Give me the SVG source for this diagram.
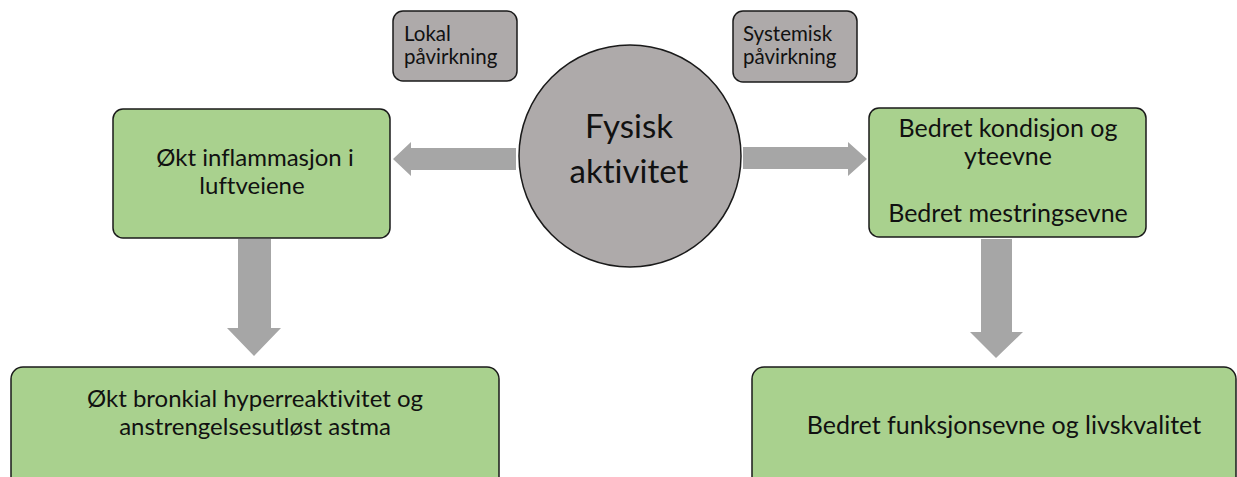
<svg xmlns="http://www.w3.org/2000/svg" width="1237" height="477" viewBox="0 0 1237 477">
<style>
.t{font-family:Lato,"Open Sans","Liberation Sans",sans-serif;fill:#111;font-variant-ligatures:none}
.g{fill:#A9D18E;stroke:#1a1a1a;stroke-width:1.5}
.s{fill:#AEAAAA;stroke:#1a1a1a;stroke-width:1.5}
.a{fill:#A6A6A6;stroke:none}
</style>
<rect width="1237" height="477" fill="#fff"/>
<g id="connectors">
<polygon class="a" points="516,148 411,148 411,142 393,159 411,176 411,170 516,170"/>
<polygon class="a" points="743,147 848,147 848,142 867,159 848,176 848,169 743,169"/>
<polygon class="a" points="238,239 271,239 271,328 281,328 254,356 227,328 238,328"/>
<polygon class="a" points="981,239 1012,239 1012,332 1023,332 996,358 970,332 981,332"/>
</g>
<g id="lokal">
<rect class="s" x="393" y="11" width="124" height="70" rx="10"/>
<text class="t" x="404" y="41" font-size="20.5">Lokal</text>
<text class="t" x="404" y="64" font-size="20.5">påvirkning</text>
</g>
<g id="systemisk">
<rect class="s" x="733" y="11" width="124" height="71" rx="10"/>
<text class="t" x="743" y="41" font-size="20.5">Systemisk</text>
<text class="t" x="743" y="64" font-size="20.5">påvirkning</text>
</g>
<g id="fysisk">
<circle class="s" cx="630" cy="156" r="111"/>
<text class="t" x="629" y="138" font-size="33" text-anchor="middle">Fysisk</text>
<text class="t" x="629" y="183" font-size="33" text-anchor="middle">aktivitet</text>
</g>
<g id="inflammasjon">
<rect class="g" x="113" y="109" width="277" height="129" rx="10"/>
<text class="t" x="255" y="166" font-size="24" text-anchor="middle">Økt inflammasjon i</text>
<text class="t" x="252" y="194" font-size="24" text-anchor="middle">luftveiene</text>
</g>
<g id="kondisjon">
<rect class="g" x="869" y="108" width="277" height="129" rx="10"/>
<text class="t" x="1008" y="137" font-size="25" text-anchor="middle">Bedret kondisjon og</text>
<text class="t" x="1008" y="165" font-size="25" text-anchor="middle">yteevne</text>
<text class="t" x="1008" y="222" font-size="25" text-anchor="middle">Bedret mestringsevne</text>
</g>
<g id="hyperreaktivitet">
<rect class="g" x="11" y="367" width="488" height="130" rx="12"/>
<text class="t" x="255" y="407" font-size="24" text-anchor="middle">Økt bronkial hyperreaktivitet og</text>
<text class="t" x="255" y="435" font-size="24" text-anchor="middle">anstrengelsesutløst astma</text>
</g>
<g id="livskvalitet">
<rect class="g" x="752" y="367" width="484" height="130" rx="12"/>
<text class="t" x="1004" y="434" font-size="25" text-anchor="middle">Bedret funksjonsevne og livskvalitet</text>
</g>
</svg>
